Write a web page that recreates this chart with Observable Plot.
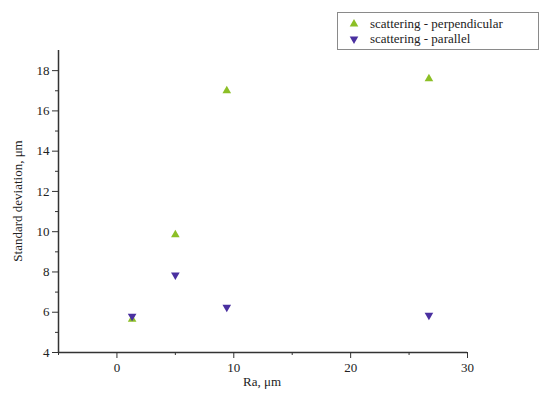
<!DOCTYPE html>
<html>
<head>
<meta charset="utf-8">
<script src="https://cdn.jsdelivr.net/npm/d3@7"></script>
<script src="https://cdn.jsdelivr.net/npm/@observablehq/plot@0.6"></script>
<style>
  html, body { margin: 0; padding: 0; background: #fff; }
  #wrap { position: relative; width: 542px; height: 402px; font-family: "Liberation Serif", "DejaVu Serif", serif; }
  #legend { position: absolute; left: 337px; top: 12px; width: 202px; height: 38px; border: 1px solid #8a8a8a; box-sizing: border-box; background: #fff; font-size: 13px; color: #222; padding: 3px 0 0 10px; line-height: 15px; }
  #legend .row { display: flex; align-items: center; }
  #legend svg { margin-right: 10px; }
</style>
</head>
<body>
<div id="wrap">
  <div id="chart"></div>
  <div id="legend"></div>
</div>
<script>
const seriesNames = ["scattering - perpendicular", "scattering - parallel"];
const seriesColors = ["#8cbf26", "#4a30a0"];
const ra = [1.3, 5.0, 9.4, 26.7];
const perpendicular = [5.65, 9.85, 17.0, 17.6];
const parallel = [5.8, 7.85, 6.25, 5.85];
const xMajorTicks = [0, 10, 20, 30];
const xMinorTicks = [-5, 5, 15, 25];
const yMajorTicks = [4, 6, 8, 10, 12, 14, 16, 18];
const yMinorTicks = [5, 7, 9, 11, 13, 15, 17];

// downward triangle symbol (mirror of d3.symbolTriangle)
const triangleDown = {
  draw(context, size) {
    const y = -Math.sqrt(size / (Math.sqrt(3) * 3));
    context.moveTo(0, -y * 2);
    context.lineTo(-Math.sqrt(3) * y, y);
    context.lineTo(Math.sqrt(3) * y, y);
    context.closePath();
  }
};
const seriesSymbols = [d3.symbolTriangle, triangleDown];

const data = [];
ra.forEach((x, i) => data.push({x, y: perpendicular[i], s: seriesNames[0]}));
ra.forEach((x, i) => data.push({x, y: parallel[i], s: seriesNames[1]}));

const axisColor = "#333";
const chart = Plot.plot({
  width: 542,
  height: 402,
  marginLeft: 58,
  marginRight: 75,
  marginTop: 50,
  marginBottom: 50,
  style: {fontFamily: "Liberation Serif, DejaVu Serif, serif", fontSize: "13px", color: "#222", background: "#fff"},
  x: {domain: [-5, 30]},
  y: {domain: [4, 19]},
  symbol: {domain: seriesNames, range: seriesSymbols},
  color: {domain: seriesNames, range: seriesColors},
  marks: [
    Plot.ruleY([4], {stroke: axisColor, strokeWidth: 1.5}),
    Plot.ruleX([-5], {stroke: axisColor, strokeWidth: 1.5}),
    Plot.axisX({ticks: xMajorTicks, tickSize: 6, tickPadding: 4, stroke: axisColor, label: null}),
    Plot.axisX({ticks: xMinorTicks, tickSize: 3, text: null, stroke: axisColor, label: null}),
    Plot.axisY({ticks: yMajorTicks, tickSize: 6, tickPadding: 3, stroke: axisColor, label: null}),
    Plot.axisY({ticks: yMinorTicks, tickSize: 3, text: null, stroke: axisColor, label: null}),
    Plot.dot(data, {x: "x", y: "y", symbol: "s", fill: "s", r: 3.2})
  ]
});
chart.style.display = "block";
document.getElementById("chart").appendChild(chart);

const svg = d3.select(chart);
svg.append("text").attr("x", 262).attr("y", 386).attr("text-anchor", "middle")
  .attr("fill", "#222").attr("font-size", 13).text("Ra, μm");
svg.append("text").attr("transform", "translate(22,201) rotate(-90)").attr("text-anchor", "middle")
  .attr("fill", "#222").attr("font-size", 13).text("Standard deviation, μm");

const legend = d3.select("#legend");
seriesNames.forEach((name, i) => {
  const row = legend.append("div").attr("class", "row");
  const s = row.append("svg").attr("width", 12).attr("height", 15);
  s.append("path").attr("d", d3.symbol(seriesSymbols[i], 32)())
    .attr("transform", "translate(6,8)")
    .attr("fill", seriesColors[i]);
  row.append("span").text(name);
});
</script>
</body>
</html>
